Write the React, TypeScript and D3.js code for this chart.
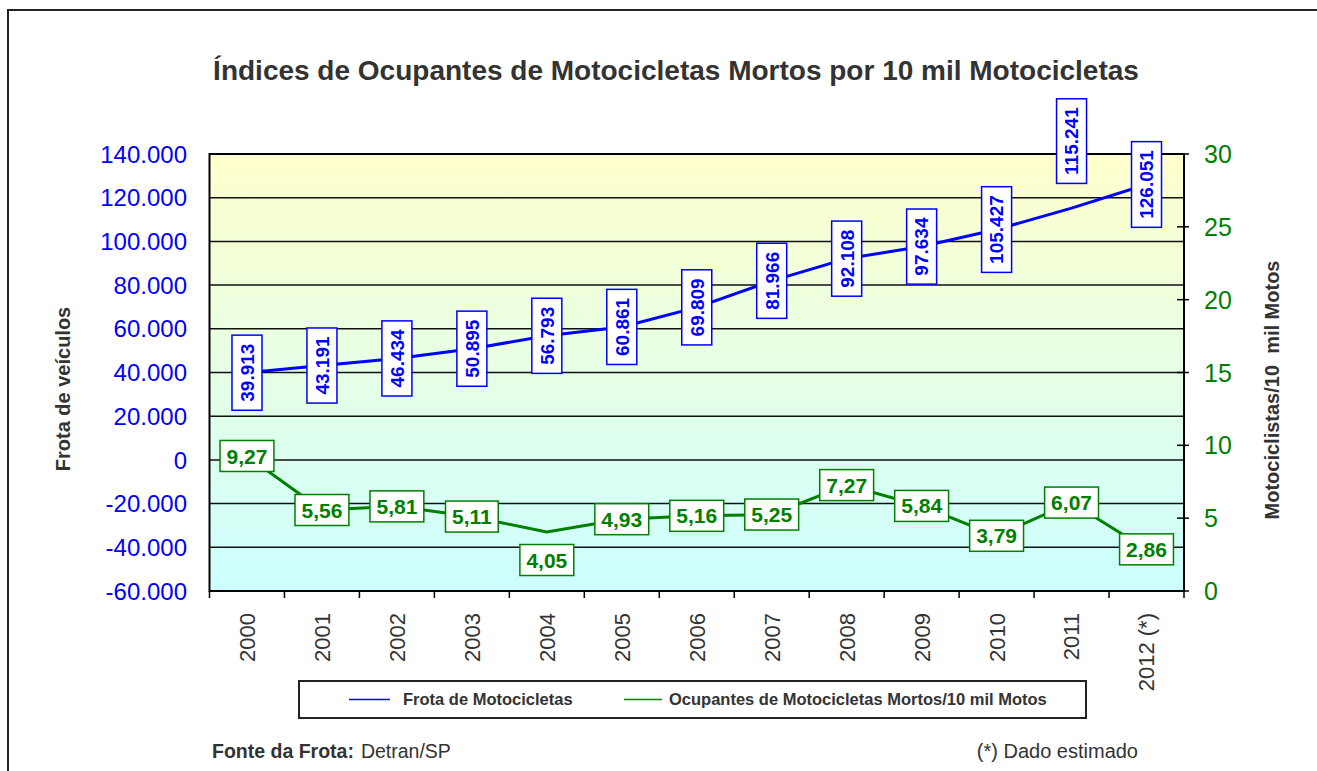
import React, { useEffect, useRef } from 'react';
import * as d3 from 'd3';

const years = ['2000', '2001', '2002', '2003', '2004', '2005', '2006', '2007', '2008', '2009', '2010', '2011', '2012 (*)'];
const frota = [39913, 43191, 46434, 50895, 56793, 60861, 69809, 81966, 92108, 97634, 105427, 115241, 126051];
const mortos = [9.27, 5.56, 5.81, 5.11, 4.05, 4.93, 5.16, 5.25, 7.27, 5.84, 3.79, 6.07, 2.86];
const leftTicks = [140000, 120000, 100000, 80000, 60000, 40000, 20000, 0, -20000, -40000, -60000];
const rightTicks = [0, 5, 10, 15, 20, 25, 30];

// label nudges (pixels) where the original had moved a label off its point
const frotaLabelDy = [0, 0, 0, 0, 0, 0, 0, 0, 0, 0, 0, -67, 0];
const mortosLabelDy = [0, 0, 0, 0, 28, 0, 0, 0, 0, 0, 0, 0, 0];

const BLUE = '#0000ff';
const GREEN = '#008000';
const GREY = '#333333';
const FONT = '"Liberation Sans", Arial, sans-serif';

const ptBR = d3.formatLocale({ decimal: ',', thousands: '.', grouping: [3], currency: ['', ''], minus: '-' });
const fmtInt = ptBR.format(',.0f');
const fmtDec = ptBR.format(',.2f');

export default function App() {
  const ref = useRef<SVGSVGElement>(null);

  useEffect(() => {
    const W = 1317, H = 771;
    const left = 209.5, right = 1184, top = 154, bottom = 591;

    const svg = d3.select(ref.current);
    svg.selectAll('*').remove();
    svg.attr('width', W).attr('height', H);

    const defs = svg.append('defs');
    const grad = defs.append('linearGradient').attr('id', 'bg').attr('x1', 0).attr('y1', 0).attr('x2', 0).attr('y2', 1);
    grad.append('stop').attr('offset', '0%').attr('stop-color', '#ffffcc');
    grad.append('stop').attr('offset', '100%').attr('stop-color', '#ccffff');

    svg.append('rect').attr('width', W).attr('height', H).attr('fill', '#fff');

    // outer frame (only top and left visible in the crop)
    svg.append('path')
      .attr('d', `M8,${H + 5} L8,10 L${W + 5},10`)
      .attr('fill', 'none').attr('stroke', '#222').attr('stroke-width', 2);

    const x = d3.scaleBand().domain(years).range([left, right]);
    const yL = d3.scaleLinear().domain([-60000, 140000]).range([bottom, top]);
    const yR = d3.scaleLinear().domain([0, 30]).range([bottom, top]);
    const cx = (i: number) => (x(years[i]) as number) + x.bandwidth() / 2;

    // title
    svg.append('text')
      .attr('x', 676).attr('y', 80)
      .attr('text-anchor', 'middle')
      .style('font', `bold 28px ${FONT}`)
      .attr('fill', GREY)
      .text('Índices de Ocupantes de Motocicletas Mortos por 10 mil Motocicletas');

    // plot area
    svg.append('rect')
      .attr('x', left).attr('y', top).attr('width', right - left).attr('height', bottom - top)
      .attr('fill', 'url(#bg)');

    svg.append('g').selectAll('line')
      .data(leftTicks.filter(t => t !== 140000 && t !== -60000))
      .enter().append('line')
      .attr('x1', left).attr('x2', right)
      .attr('y1', d => yL(d)).attr('y2', d => yL(d))
      .attr('stroke', '#111').attr('stroke-width', 1.5);

    svg.append('rect')
      .attr('x', left).attr('y', top).attr('width', right - left).attr('height', bottom - top)
      .attr('fill', 'none').attr('stroke', '#000').attr('stroke-width', 2);

    // left axis labels
    svg.append('g').selectAll('text')
      .data(leftTicks)
      .enter().append('text')
      .attr('x', 187).attr('y', d => yL(d))
      .attr('dy', '0.36em')
      .attr('text-anchor', 'end')
      .style('font', `24px ${FONT}`)
      .attr('fill', BLUE)
      .text(d => fmtInt(d));

    // right axis ticks + labels
    const rg = svg.append('g');
    rg.selectAll('line')
      .data(rightTicks)
      .enter().append('line')
      .attr('x1', right - 7).attr('x2', right + 5)
      .attr('y1', d => yR(d)).attr('y2', d => yR(d))
      .attr('stroke', '#000').attr('stroke-width', 1.5);
    rg.selectAll('text')
      .data(rightTicks)
      .enter().append('text')
      .attr('x', 1204).attr('y', d => yR(d))
      .attr('dy', '0.36em')
      .style('font', `25px ${FONT}`)
      .attr('fill', GREEN)
      .text(d => String(d));

    // bottom ticks at category edges
    const edges = years.map(y => x(y) as number).concat([right]);
    svg.append('g').selectAll('line')
      .data(edges)
      .enter().append('line')
      .attr('x1', d => d).attr('x2', d => d)
      .attr('y1', bottom).attr('y2', bottom + 7)
      .attr('stroke', '#000').attr('stroke-width', 1.5);

    // year labels
    svg.append('g').selectAll('text')
      .data(years)
      .enter().append('text')
      .attr('transform', (d, i) => `translate(${cx(i)},613) rotate(-90)`)
      .attr('text-anchor', 'end')
      .attr('dy', '0.36em')
      .style('font', `22px ${FONT}`)
      .attr('fill', GREY)
      .text(d => d);

    // axis titles
    svg.append('text')
      .attr('transform', 'translate(63,389) rotate(-90)')
      .attr('text-anchor', 'middle').attr('dy', '0.36em')
      .style('font', `bold 20px ${FONT}`)
      .attr('fill', GREY)
      .text('Frota de veículos');
    svg.append('text')
      .attr('transform', 'translate(1272,390) rotate(-90)')
      .attr('text-anchor', 'middle').attr('dy', '0.36em')
      .style('font', `bold 20px ${FONT}`)
      .attr('fill', GREY)
      .style('white-space', 'pre')
      .text('Motociclistas/10  mil Motos');

    // lines
    const blueLine = d3.line<number>().x((d, i) => cx(i)).y(d => yL(d));
    const greenLine = d3.line<number>().x((d, i) => cx(i)).y(d => yR(d));
    svg.append('path').attr('d', blueLine(frota)).attr('fill', 'none').attr('stroke', BLUE).attr('stroke-width', 3);
    svg.append('path').attr('d', greenLine(mortos)).attr('fill', 'none').attr('stroke', GREEN).attr('stroke-width', 3);

    // blue data labels (vertical)
    frota.forEach((v, i) => {
      const g = svg.append('g').attr('transform', `translate(${cx(i)},${yL(v) + frotaLabelDy[i]})`);
      const r = g.append('rect');
      const t = g.append('text')
        .attr('transform', 'rotate(-90)')
        .attr('text-anchor', 'middle').attr('dy', '0.36em')
        .style('font', `bold 19px ${FONT}`)
        .attr('fill', BLUE)
        .text(fmtInt(v));
      const len = (t.node() as SVGTextElement).getComputedTextLength();
      const h = len + 17, w = 30;
      r.attr('x', -w / 2).attr('y', -h / 2).attr('width', w).attr('height', h)
        .attr('fill', '#fff').attr('stroke', BLUE).attr('stroke-width', 1.5);
    });

    // green data labels
    mortos.forEach((v, i) => {
      const g = svg.append('g').attr('transform', `translate(${cx(i)},${yR(v) + mortosLabelDy[i]})`);
      const r = g.append('rect');
      const t = g.append('text')
        .attr('text-anchor', 'middle').attr('dy', '0.36em')
        .style('font', `bold 21px ${FONT}`)
        .attr('fill', GREEN)
        .text(fmtDec(v));
      const len = (t.node() as SVGTextElement).getComputedTextLength();
      const w = len + 13, h = 31;
      r.attr('x', -w / 2).attr('y', -h / 2).attr('width', w).attr('height', h)
        .attr('fill', '#fff').attr('stroke', GREEN).attr('stroke-width', 1.5);
    });

    // legend
    const lg = svg.append('g');
    lg.append('rect').attr('x', 299).attr('y', 681).attr('width', 787).attr('height', 37)
      .attr('fill', '#fff').attr('stroke', '#222').attr('stroke-width', 2);
    lg.append('line').attr('x1', 349).attr('x2', 390).attr('y1', 699.5).attr('y2', 699.5).attr('stroke', BLUE).attr('stroke-width', 1.5);
    lg.append('text').attr('x', 403).attr('y', 699.5).attr('dy', '0.36em')
      .style('font', `bold 16.5px ${FONT}`).attr('fill', GREY).text('Frota de Motocicletas');
    lg.append('line').attr('x1', 624).attr('x2', 662).attr('y1', 699.5).attr('y2', 699.5).attr('stroke', GREEN).attr('stroke-width', 1.5);
    lg.append('text').attr('x', 669).attr('y', 699.5).attr('dy', '0.36em')
      .style('font', `bold 16.5px ${FONT}`).attr('fill', GREY).text('Ocupantes de Motocicletas Mortos/10 mil Motos');

    // footer
    const ft = svg.append('text').attr('x', 212).attr('y', 751).attr('dy', '0.36em')
      .style('font', `19.5px ${FONT}`).attr('fill', GREY);
    ft.append('tspan').style('font-weight', 'bold').text('Fonte da Frota:');
    ft.append('tspan').attr('dx', 7).text('Detran/SP');
    svg.append('text').attr('x', 1138).attr('y', 751).attr('dy', '0.36em')
      .attr('text-anchor', 'end')
      .style('font', `20px ${FONT}`).attr('fill', GREY)
      .text('(*) Dado estimado');
  }, []);

  return (
    <div style={{ position: 'absolute', left: 0, top: 0 }}>
      <svg ref={ref} style={{ display: 'block' }} />
    </div>
  );
}
